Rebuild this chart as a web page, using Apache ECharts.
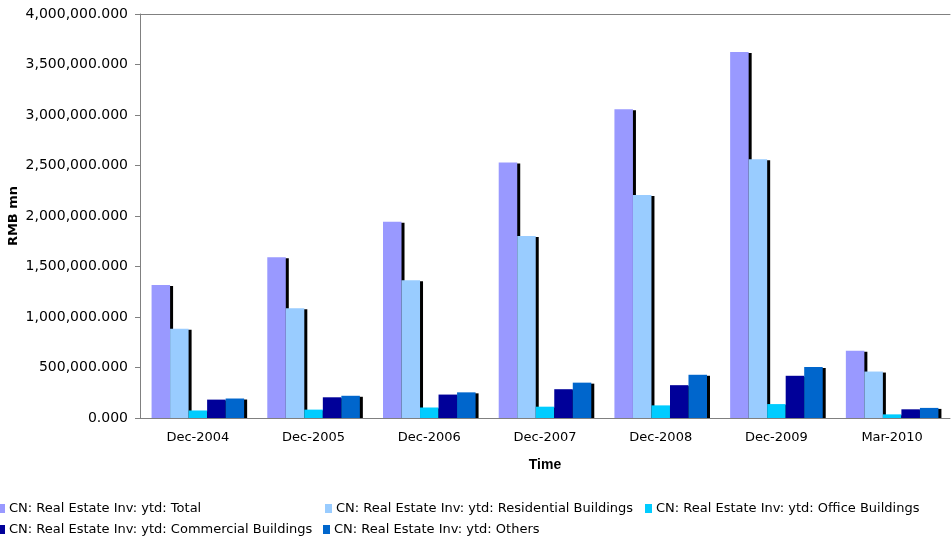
<!DOCTYPE html>
<html>
<head>
<meta charset="utf-8">
<script src="https://cdn.jsdelivr.net/npm/echarts@6/dist/echarts.min.js"></script>
<style>
  html, body { margin: 0; padding: 0; background: #fff; }
  #main { width: 952px; height: 539px; }
</style>
</head>
<body>
<div id="main"></div>
<script>
var categories = ['Dec-2004', 'Dec-2005', 'Dec-2006', 'Dec-2007', 'Dec-2008', 'Dec-2009', 'Mar-2010'];
var total = [1315800, 1590900, 1942300, 2528900, 3058000, 3623200, 665000];
var residential = [883700, 1086100, 1363800, 1801000, 2208100, 2561900, 460000];
var office = [74500, 83000, 104000, 112000, 125000, 137800, 36000];
var commercial = [182000, 205000, 232000, 285000, 325000, 418000, 86000];
var others = [193000, 220000, 254000, 350000, 428000, 505000, 100000];
var yTicks = [0, 500000, 1000000, 1500000, 2000000, 2500000, 3000000, 3500000, 4000000];

var names = [
    'CN: Real Estate Inv: ytd: Total',
    'CN: Real Estate Inv: ytd: Residential Buildings',
    'CN: Real Estate Inv: ytd: Office Buildings',
    'CN: Real Estate Inv: ytd: Commercial Buildings',
    'CN: Real Estate Inv: ytd: Others'
];
var colors = ['#9999FF', '#99CCFF', '#00CCFF', '#000099', '#0066CC'];
var values = [total, residential, office, commercial, others];

function fmt(v) {
    return v.toLocaleString('en-US', {minimumFractionDigits: 3, maximumFractionDigits: 3});
}

var series = values.map(function (d, i) {
    return {
        name: names[i],
        type: 'bar',
        data: d,
        barGap: '0%',
        barCategoryGap: '20%',
        itemStyle: {
            color: colors[i],
            shadowColor: '#000',
            shadowBlur: 0,
            shadowOffsetX: 3,
            shadowOffsetY: 1
        }
    };
});

// legend laid out like the excel grid: one component per item
var legendPos = [[-2, 502], [325, 502], [645, 502], [-2, 523], [323, 523]];
var legends = names.map(function (n, i) {
    return {
        left: legendPos[i][0], top: legendPos[i][1],
        itemWidth: 7, itemHeight: 9, itemGap: 0,
        icon: 'rect',
        padding: 0,
        itemStyle: {shadowColor: 'rgba(0,0,0,0)', shadowOffsetX: 0, shadowOffsetY: 0},
        textStyle: {fontFamily: 'DejaVu Sans', fontSize: 13, color: '#000', padding: [0, 0, 0, -1]},
        data: [n]
    };
});

var ec = echarts.init(document.getElementById('main'));
ec.setOption({
    animation: false,
    color: colors,
    grid: {left: 140, right: 2, top: 14, bottom: 121, outerBoundsMode: 'none', containLabel: false},
    legend: legends,
    graphic: [{
        type: 'text',
        x: 14, y: 216,
        rotation: Math.PI / 2,
        style: {
            text: 'RMB mn',
            fontFamily: 'DejaVu Sans', fontWeight: 'bold', fontSize: 13, fill: '#000',
            align: 'center', verticalAlign: 'middle'
        }
    }],
    xAxis: [{
        type: 'category',
        data: categories,
        z: 5,
        name: 'Time',
        nameLocation: 'middle',
        nameGap: 40,
        nameTextStyle: {fontFamily: 'Liberation Sans', fontWeight: 'bold', fontSize: 14, color: '#000'},
        axisLine: {lineStyle: {color: '#808080'}},
        axisTick: {length: 5, lineStyle: {color: '#808080'}},
        axisLabel: {fontFamily: 'DejaVu Sans', fontSize: 13, color: '#000', margin: 13}
    }, {
        type: 'category',
        position: 'top',
        data: categories,
        axisLine: {lineStyle: {color: '#808080'}},
        axisTick: {show: false},
        axisLabel: {show: false}
    }],
    yAxis: {
        type: 'value',
        min: 0, max: yTicks[yTicks.length - 1], interval: yTicks[1] - yTicks[0],
        axisLine: {show: true, lineStyle: {color: '#808080'}},
        axisTick: {show: true, length: 5, lineStyle: {color: '#808080'}},
        splitLine: {show: false},
        axisLabel: {fontFamily: 'DejaVu Sans', fontSize: 14, color: '#000', margin: 12, formatter: fmt}
    },
    series: series
});
</script>
</body>
</html>
